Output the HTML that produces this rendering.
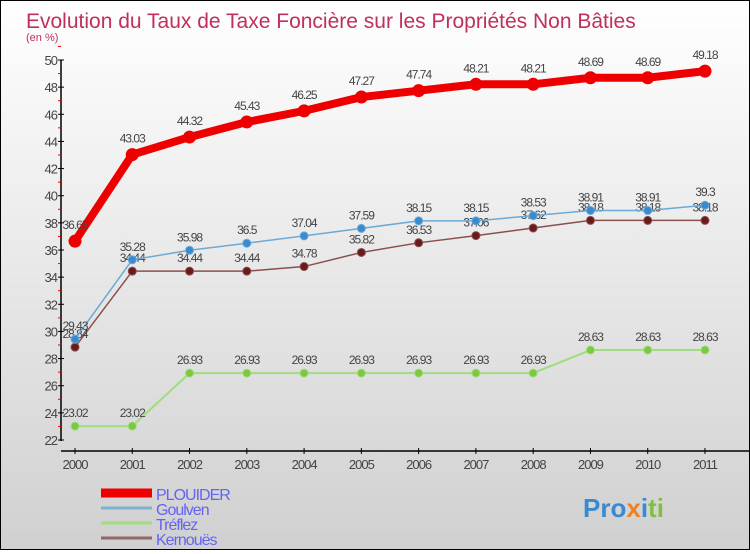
<!DOCTYPE html>
<html><head><meta charset="utf-8"><style>
body{margin:0;width:750px;height:550px;overflow:hidden;font-family:"Liberation Sans",sans-serif}
#wrap{position:relative;width:748px;height:548px;border:1px solid #000;background:linear-gradient(#fff,#d0d0d0)}
</style></head><body>
<div id="wrap">
<svg id="c" width="748" height="548">
<text x="25" y="27" font-size="21" fill="#c0305a">Evolution du Taux de Taxe Foncière sur les Propriétés Non Bâties</text>
<text x="25" y="40" font-size="11" fill="#c0305a">(en %)</text>
</svg>
</div>
<script>
const years=[2000,2001,2002,2003,2004,2005,2006,2007,2008,2009,2010,2011];
const plouider=[36.65,43.03,44.32,45.43,46.25,47.27,47.74,48.21,48.21,48.69,48.69,49.18];
const goulven=[29.43,35.28,35.98,36.5,37.04,37.59,38.15,38.15,38.53,38.91,38.91,39.3];
const treflez=[23.02,23.02,26.93,26.93,26.93,26.93,26.93,26.93,26.93,28.63,28.63,28.63];
const kernoues=[28.84,34.44,34.44,34.44,34.78,35.82,36.53,37.06,37.62,38.18,38.18,38.18];
const yTicks=[22,24,26,28,30,32,34,36,38,40,42,44,46,48,50];
const svg=document.getElementById('c');const NS='http://www.w3.org/2000/svg';
const X=i=>74+i*(630/11);const Y=v=>439-(v-22)*(380/28);
function mk(t,a,p){const e=document.createElementNS(NS,t);for(const k in a)e.setAttribute(k,a[k]);(p||svg).appendChild(e);return e;}
// y axis
let ya=mk('line',{x1:60,y1:59,x2:60,y2:440,stroke:'#000','stroke-width':1.5});


yTicks.forEach(v=>{mk('line',{x1:57,x2:63,y1:Y(v),y2:Y(v),stroke:'#000'});
 mk('line',{x1:57,x2:60,y1:Y(v+1),y2:Y(v+1),stroke:'#e00'});
 const t=mk('text',{x:56,y:Y(v)+5,'text-anchor':'end','font-size':13,fill:'#444','letter-spacing':'-1'});t.textContent=v;
 
 });
let xa=mk('line',{x1:60,y1:450,x2:748,y2:450,stroke:'#000','stroke-width':1.5});


years.forEach((y,i)=>{mk('line',{x1:X(i),x2:X(i),y1:447,y2:453,stroke:'#000'});
 const t=mk('text',{x:X(i),y:468,'text-anchor':'middle','font-size':13,fill:'#444','letter-spacing':'-1'});t.textContent=y;
 
 });
function series(d,col,w,r,dot,name,dy){
 const g=mk('g',{});
 
 
 mk('polyline',{points:d.map((v,i)=>X(i)+','+Y(v)).join(' '),fill:'none',stroke:col,'stroke-width':w},g);
 d.forEach((v,i)=>{const c=mk('circle',{cx:X(i),cy:Y(v),r:r,fill:dot,stroke:col,'stroke-width':1},g);
  
  
  const t=mk('text',{x:X(i),y:Y(v)+dy,'text-anchor':'middle','font-size':12,fill:'#444','letter-spacing':'-1'},g);t.textContent=v;
  
  });
}
series(treflez,'#a0dc80',2,4,'#7cc840','treflez',-9);
series(kernoues,'#8a5050',1.5,4,'#6a1a1a','kernoues',-9);
series(goulven,'#6aaad8',1.5,4,'#3a8ad0','goulven',-9);
series(plouider,'#ee0000',8,6,'#ee0000','plouider',-12);
const leg=[['PLOUIDER','#ee0000',9],['Goulven','#80b0d0',3],['Tréflez','#a0dc80',3],['Kernouës','#906868',3]];
leg.forEach((l,i)=>{const yy=492+i*15;
 const ln=mk('line',{x1:100,x2:151,y1:yy,y2:yy,stroke:l[1],'stroke-width':l[2]});
 
 
 const t=mk('text',{x:155,y:yy+7,'font-size':16,fill:'#6464f0','letter-spacing':'-1'});t.textContent=l[0];
 
 });
const logo=mk('text',{x:582,y:516,'font-size':26,'font-weight':'bold',fill:'#3a8ad0'});


logo.innerHTML='<tspan fill="#3a8ad0">Pro</tspan><tspan fill="#f08020">x</tspan><tspan fill="#3a8ad0">i</tspan><tspan fill="#80c040">ti</tspan>';
</script>
</body></html>
